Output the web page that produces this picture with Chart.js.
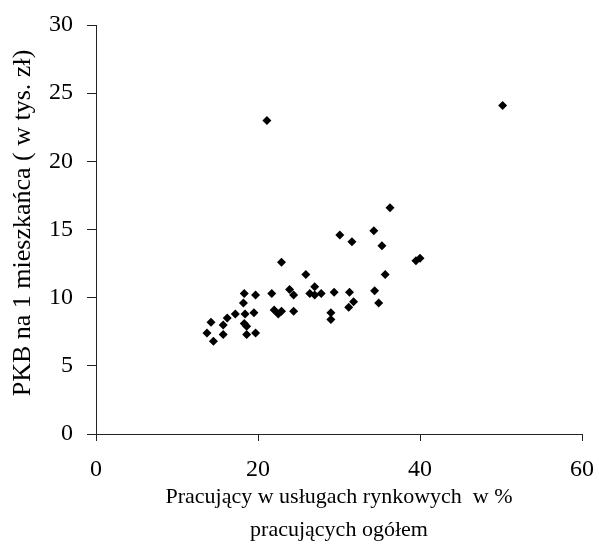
<!DOCTYPE html>
<html>
<head>
<meta charset="utf-8">
<script src="https://cdn.jsdelivr.net/npm/chart.js@4"></script>
<style>
  html, body { margin: 0; padding: 0; background: #fff; }
  #wrap { width: 599px; height: 550px; }
</style>
</head>
<body>
<div id="wrap"><canvas id="chart" width="599" height="550"></canvas></div>
<script>
// Employed in market services (% of total) vs GDP per capita (thous. zł)
const xValues = [21.1, 50.2, 18.3, 19.7, 18.2, 17.2, 18.4, 19.5, 16.2, 14.2, 18.3, 18.6, 15.7, 13.7, 15.7, 18.6,
    19.7, 14.5, 22.9, 25.9, 21.7, 23.9, 24.4, 27.0, 26.4, 27.0, 27.8, 22.0, 22.5, 22.9, 24.4, 30.1,
    31.6, 34.3, 35.3, 35.7, 29.4, 31.3, 34.4, 34.9, 31.8, 31.2, 29.0, 29.0, 36.3, 39.5, 40.0];
const yValues = [23.0, 24.1, 10.3, 10.2, 9.6, 8.8, 8.8, 8.9, 8.5, 8.2, 8.1, 7.9, 8.0, 7.4, 7.3, 7.3,
    7.4, 6.8, 12.6, 11.7, 10.3, 10.6, 10.2, 10.8, 10.3, 10.2, 10.3, 9.1, 8.8, 9.0, 9.0, 14.6,
    14.1, 14.9, 13.8, 11.7, 10.4, 10.4, 10.5, 9.6, 9.7, 9.3, 8.9, 8.4, 16.6, 12.7, 12.9];
const xTicks = [0, 20, 40, 60];
const yTicks = [0, 5, 10, 15, 20, 25, 30];

const xTitle = ['Pracujący w usługach rynkowych  w %', 'pracujących ogółem'];
const yTitle = '  PKB na 1 mieszkańca ( w tys. zł)';

const serif = '"Liberation Serif", "DejaVu Serif", serif';

const points = xValues.map((x, i) => ({ x, y: yValues[i] }));

new Chart(document.getElementById('chart').getContext('2d'), {
    type: 'scatter',
    data: {
        datasets: [{
            data: points,
            pointStyle: 'rectRot',
            pointRadius: 4.5,
            pointHoverRadius: 4.5,
            backgroundColor: '#000',
            borderColor: '#000',
            borderWidth: 0
        }]
    },
    options: {
        responsive: false,
        animation: false,
        events: [],
        layout: { padding: { top: 25, right: 17, bottom: 0, left: 0 } },
        plugins: {
            legend: { display: false },
            tooltip: { enabled: false }
        },
        scales: {
            x: {
                type: 'linear',
                min: 0,
                max: 60,
                afterBuildTicks: s => { s.ticks = xTicks.map(v => ({ value: v })); },
                afterFit: s => { s.height = 116; s.paddingLeft = 0; s.paddingRight = 0; },
                grid: { drawOnChartArea: false, drawTicks: true, tickLength: 7, color: '#222' },
                border: { display: true, color: '#222', width: 1 },
                ticks: { color: '#000', padding: 14, font: { family: serif, size: 24 } },
                title: {
                    display: true,
                    text: xTitle,
                    color: '#000',
                    padding: { top: 0, bottom: 3 },
                    font: { family: serif, size: 22, lineHeight: 1.5 }
                }
            },
            y: {
                type: 'linear',
                min: 0,
                max: 30,
                afterBuildTicks: s => { s.ticks = yTicks.map(v => ({ value: v })); },
                afterFit: s => { s.width = 96; s.paddingTop = 0; s.paddingBottom = 0; },
                grid: { drawOnChartArea: false, drawTicks: true, tickLength: 9, color: '#222' },
                border: { display: true, color: '#222', width: 1 },
                ticks: { color: '#000', padding: 14, font: { family: serif, size: 24 } },
                title: {
                    display: true,
                    text: yTitle,
                    color: '#000',
                    padding: { top: 8, bottom: 0 },
                    font: { family: serif, size: 26, lineHeight: 1.2 }
                }
            }
        }
    }
});
</script>
</body>
</html>
